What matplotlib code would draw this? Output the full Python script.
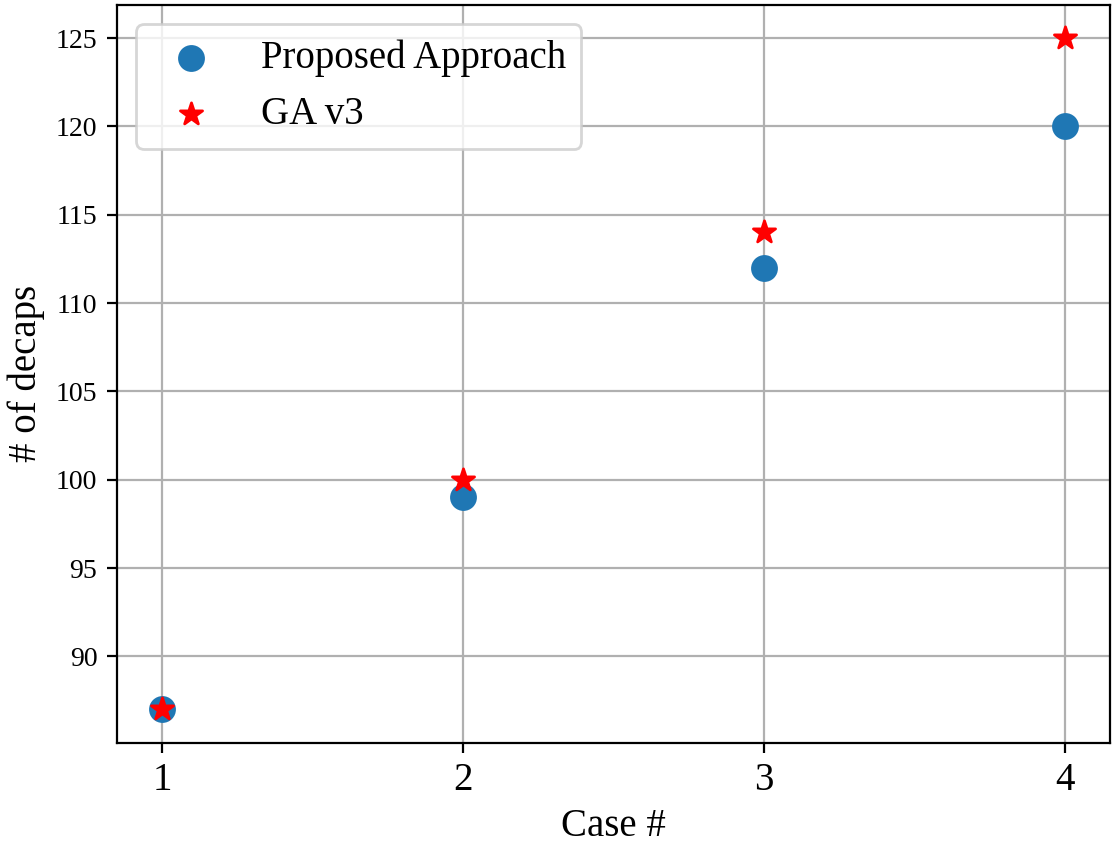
import matplotlib.pyplot as plt

# Data
cases = [1, 2, 3, 4]
proposed = [87, 99, 112, 120]
ga_v3 = [87, 100, 114, 125]

plt.rcParams['font.family'] = ['Liberation Serif', 'DejaVu Serif']

fig = plt.figure(figsize=(5.56, 4.215), dpi=200)
ax = fig.add_axes([0.105, 0.1186, 0.893, 0.876])

ax.scatter(cases, proposed, s=75, color='tab:blue', label='Proposed Approach', zorder=3)
ax.scatter(cases, ga_v3, s=70, marker='*', color='red', label='GA v3', zorder=4)

ax.set_xticks(cases)
ax.tick_params(axis='x', labelsize=14)
ax.set_xlabel('Case #', fontsize=14, labelpad=3)
ax.set_ylabel('# of decaps', fontsize=14)
ax.grid(True)
ax.set_axisbelow(True)
ax.legend(loc='upper left', fontsize=14)

fig.savefig('out.png', dpi=200)
